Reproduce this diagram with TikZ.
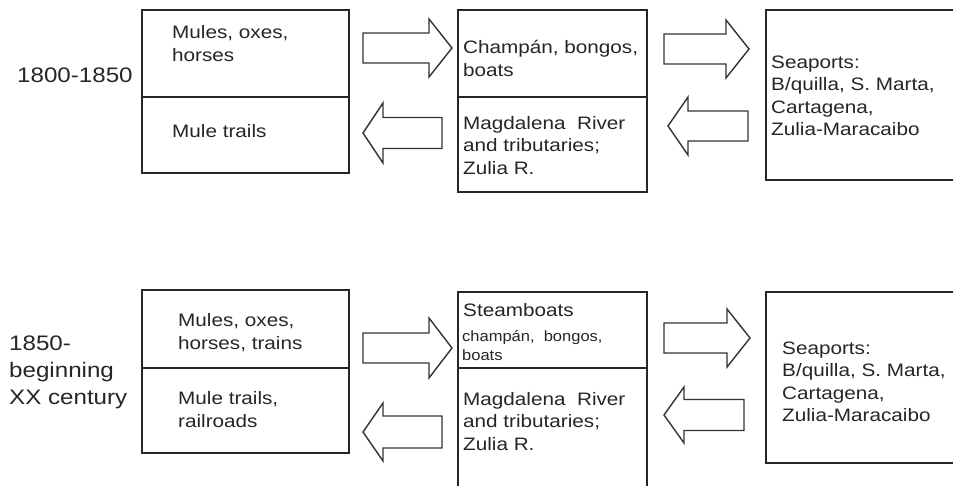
\documentclass[tikz,border=0pt]{standalone}
\usepackage{fontspec}
\setmainfont{Liberation Sans}[FakeStretch=1.15]
\newfontfamily\smallfnt{Liberation Sans}[FakeStretch=1.1]
\newcommand\blkR[5]{% tailx, tipx, yc, shaft half, head half ; head length 23
  \draw[arrowline] (#1,#3-#4) -- (#2-23,#3-#4) -- (#2-23,#3-#5) -- (#2,#3) -- (#2-23,#3+#5) -- (#2-23,#3+#4) -- (#1,#3+#4) -- cycle;}
\newcommand\blkL[5]{% tailx, tipx, yc, shaft half, head half ; head length 20
  \draw[arrowline] (#1,#3-#4) -- (#2+20,#3-#4) -- (#2+20,#3-#5) -- (#2,#3) -- (#2+20,#3+#5) -- (#2+20,#3+#4) -- (#1,#3+#4) -- cycle;}
\begin{document}
\begin{tikzpicture}[x=1pt,y=-1pt,
  boxline/.style={draw=black!85,line width=1.6pt},
  arrowline/.style={draw=black!80,line width=1.4pt,line join=miter,fill=white},
  txt/.style={anchor=west,align=left,inner sep=0pt,text=black!85,font=\fontsize{18}{22.5}\selectfont},
  sml/.style={anchor=west,align=left,inner sep=0pt,text=black!85,font=\smallfnt\fontsize{15}{19}\selectfont},
  lab/.style={anchor=west,align=left,inner sep=0pt,text=black!85,font=\fontsize{21}{27}\selectfont}]
\useasboundingbox (0,0) rectangle (953,485);
\clip (0,0) rectangle (953,485);
\fill[white] (0,0) rectangle (953,485);
% ---- top row boxes
\draw[boxline] (142,10) rectangle (349,173);
\draw[boxline] (142,97) -- (349,97);
\draw[boxline] (458,10) rectangle (647,192);
\draw[boxline] (458,97) -- (647,97);
\draw[boxline] (766,10) rectangle (990,180);
% ---- bottom row boxes
\draw[boxline] (142,290) rectangle (349,453);
\draw[boxline] (142,368) -- (349,368);
\draw[boxline] (458,520) -- (458,292) -- (647,292) -- (647,520);
\draw[boxline] (458,368) -- (647,368);
\draw[boxline] (766,292) rectangle (990,463);
% ---- arrows top
\blkR{363}{452}{48}{15}{29}
\blkL{442}{363}{133}{15.5}{30}
\blkR{664}{749}{49}{15}{29}
\blkL{748}{668}{126}{15}{29}
% ---- arrows bottom
\blkR{363}{452}{348}{15}{30}
\blkL{442}{363}{432}{16}{29}
\blkR{664}{750}{338}{15}{29}
\blkL{744}{664}{415}{15.5}{28}
% ---- labels
\node[lab] (p1) at (17,75) {1800-1850};
\node[lab] (p2) at (9,372) {1850-\\beginning\\XX century};
% ---- top texts
\node[txt] (t1) at (172,43.5) {Mules, oxes,\\horses};
\node[txt] (t2) at (172,131) {Mule trails};
\node[txt] (t3) at (463,58.5) {Champán, bongos,\\boats};
\node[txt] (t4) at (463,145.5) {Magdalena~ River\\and tributaries;\\Zulia R.};
\node[txt] (t5) at (771,96) {Seaports:\\B/quilla, S. Marta,\\Cartagena,\\Zulia-Maracaibo};
% ---- bottom texts
\node[txt] (b1) at (178,332.5) {Mules, oxes,\\horses, trains};
\node[txt] (b2) at (178,409.5) {Mule trails,\\railroads};
\node[txt] (b3) at (463,310) {Steamboats};
\node[sml] (b3s) at (462,346) {champán,~ bongos,\\boats};
\node[txt] (b4) at (463,421.5) {Magdalena~ River\\and tributaries;\\Zulia R.};
\node[txt] (b5) at (782,382) {Seaports:\\B/quilla, S. Marta,\\Cartagena,\\Zulia-Maracaibo};
\end{tikzpicture}
\end{document}
